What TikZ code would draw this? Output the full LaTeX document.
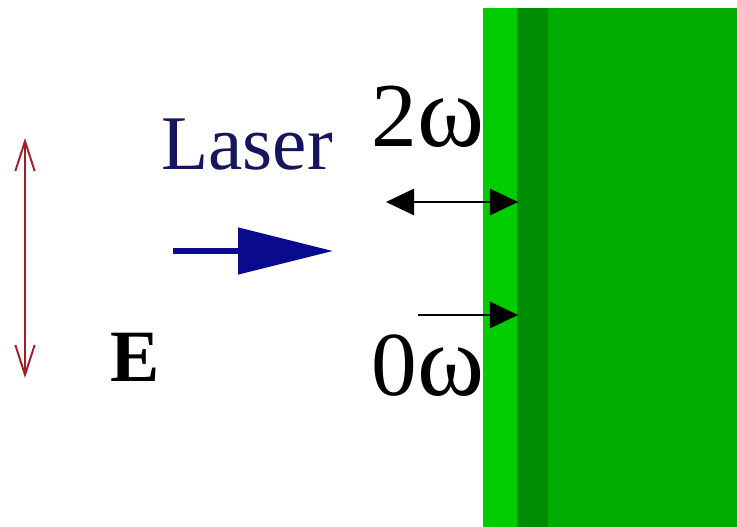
\documentclass[tikz,border=0pt]{standalone}
\usepackage{fontspec}
\setmainfont{Liberation Serif}
\usetikzlibrary{arrows.meta,positioning}

\definecolor{filmlight}{RGB}{0,204,0}
\definecolor{filmdark}{RGB}{0,140,0}
\definecolor{bulkgreen}{RGB}{0,172,0}
\definecolor{laserblue}{RGB}{10,10,140}
\definecolor{lasertext}{RGB}{22,22,95}
\definecolor{fieldred}{RGB}{160,30,40}

\newcommand{\omg}{{\fontsize{58}{58}\selectfont ω}}

\begin{document}
\begin{tikzpicture}[x=0.02cm,y=-0.02cm,
    lbl/.style={inner sep=0pt,anchor=base west},
    big/.style={lbl,font=\fontsize{52}{52}\selectfont},
    harm/.style={line width=1.1pt,{Triangle[length=16pt,width=15pt]}-{Triangle[length=16pt,width=15pt]}},
    probe/.style={line width=1.1pt,-{Triangle[length=16pt,width=15pt]}}]
    \useasboundingbox (0,0) rectangle (737,527);
    % sample: surface film and bulk
    \fill[filmlight] (483,8) rectangle (517,527);
    \fill[filmdark] (517,8) rectangle (548,527);
    \fill[bulkgreen] (548,8) rectangle (737,527);
    % labels
    \node[lbl,font=\fontsize{44}{44}\selectfont,text=lasertext] (laser) at (161,170) {Laser};
    \node[lbl,font=\bfseries\fontsize{42}{42}\selectfont] (field) at (110,381) {E};
    \node[big] (shg) at (371,147) {2\omg};
    \node[big] (dc) at (371,395) {0\omg};
    % polarisation of the field
    \coordinate (etop) at (25,138);
    \coordinate (ebot) at (25,378);
    \draw[fieldred,line width=1.1pt,{Straight Barb[length=17pt,width=11pt]}-{Straight Barb[length=17pt,width=11pt]}] (etop) -- (ebot);
    % incident beam
    \coordinate (beamtail) at (173,251);
    \coordinate (beamtip) at (333,251);
    \draw[laserblue,line width=3.2pt,-{Triangle[length=54pt,width=26pt]}] (beamtail) -- (beamtip);
    % signals at the surface
    \coordinate (shgleft) at (386,202);
    \coordinate (shgright) at (518,202);
    \draw[harm] (shgleft) -- (shgright);
    \coordinate (dcleft) at (418,315);
    \coordinate (dcright) at (518,315);
    \draw[probe] (dcleft) -- (dcright);
\end{tikzpicture}
\end{document}
